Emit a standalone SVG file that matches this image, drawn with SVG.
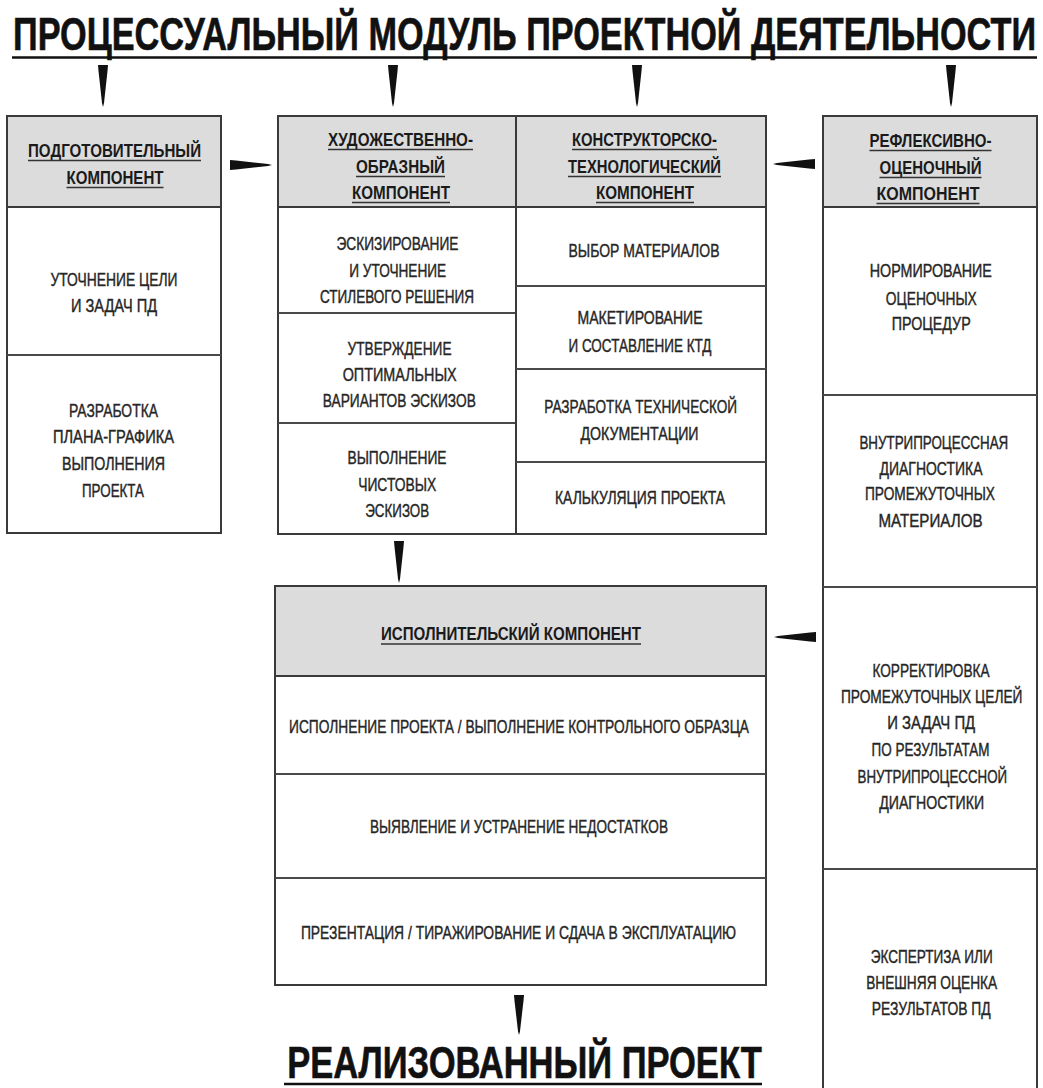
<svg xmlns="http://www.w3.org/2000/svg" width="1043" height="1088" viewBox="0 0 1043 1088">
<style>
text{font-family:"Liberation Sans","Noto Sans",Arial,sans-serif;text-anchor:middle;}
.t{font-size:46px;font-weight:bold;fill:#111;stroke:#111;stroke-width:0.6;}
.h{font-size:18.5px;font-weight:bold;fill:#1a1a1a;}
.b{font-size:17.5px;fill:#262626;stroke:#262626;stroke-width:0.4;}
.box{fill:#fff;stroke:#3a3a3a;stroke-width:2;}
.hd{fill:#dcdcdc;stroke:#3a3a3a;stroke-width:2;}
.div{stroke:#4a4a4a;stroke-width:2;fill:none;}
.ul{stroke:#333;stroke-width:1.6;}
.tul{stroke:#111;stroke-width:2.5;}
.arr{fill:#111;}
</style>
<defs>
<path id="arr" d="M-5,-42 L5,-42 L4.5,-36 L1,-4 L0,0 L-1,-4 L-4.5,-36 Z"/>
</defs>
<rect width="1043" height="1088" fill="#fff"/>

<g id="title">
<text class="t" transform="translate(524.5,50) scale(0.75,1)" x="0" y="0" textLength="1364" lengthAdjust="spacingAndGlyphs">ПРОЦЕССУАЛЬНЫЙ МОДУЛЬ ПРОЕКТНОЙ ДЕЯТЕЛЬНОСТИ</text>
<line class="tul" x1="12" y1="57.5" x2="1037" y2="57.5"/>
</g>

<g id="node-prep">
<rect class="box" x="7" y="116" width="214" height="417"/>
<rect class="hd" x="7" y="116" width="214" height="91"/>
<line class="div" x1="7" y1="355" x2="221" y2="355"/>
<text class="h" x="114.5" y="157" textLength="173" lengthAdjust="spacingAndGlyphs">ПОДГОТОВИТЕЛЬНЫЙ</text>
<line class="ul" x1="28" y1="160.5" x2="201" y2="160.5"/>
<text class="h" x="115" y="184" textLength="97" lengthAdjust="spacingAndGlyphs">КОМПОНЕНТ</text>
<line class="ul" x1="66.5" y1="187.5" x2="163.5" y2="187.5"/>
<text class="b" x="114" y="286" textLength="127" lengthAdjust="spacingAndGlyphs">УТОЧНЕНИЕ ЦЕЛИ</text>
<text class="b" x="114" y="312" textLength="86" lengthAdjust="spacingAndGlyphs">И ЗАДАЧ ПД</text>
<text class="b" x="113.5" y="417" textLength="89" lengthAdjust="spacingAndGlyphs">РАЗРАБОТКА</text>
<text class="b" x="113.5" y="443" textLength="121" lengthAdjust="spacingAndGlyphs">ПЛАНА-ГРАФИКА</text>
<text class="b" x="113.5" y="470" textLength="103" lengthAdjust="spacingAndGlyphs">ВЫПОЛНЕНИЯ</text>
<text class="b" x="113" y="497" textLength="62" lengthAdjust="spacingAndGlyphs">ПРОЕКТА</text>
</g>

<g id="node-art">
<rect class="box" x="278" y="116" width="238" height="418"/>
<rect class="hd" x="278" y="116" width="238" height="91"/>
<line class="div" x1="278" y1="313" x2="516" y2="313"/>
<line class="div" x1="278" y1="423" x2="516" y2="423"/>
<text class="h" x="400.5" y="146" textLength="145" lengthAdjust="spacingAndGlyphs">ХУДОЖЕСТВЕННО-</text>
<line class="ul" x1="328" y1="149.5" x2="473" y2="149.5"/>
<text class="h" x="400.5" y="173" textLength="89" lengthAdjust="spacingAndGlyphs">ОБРАЗНЫЙ</text>
<line class="ul" x1="356" y1="176.5" x2="445" y2="176.5"/>
<text class="h" x="401" y="199" textLength="98" lengthAdjust="spacingAndGlyphs">КОМПОНЕНТ</text>
<line class="ul" x1="352" y1="202.5" x2="450" y2="202.5"/>
<text class="b" x="397.5" y="250" textLength="122" lengthAdjust="spacingAndGlyphs">ЭСКИЗИРОВАНИЕ</text>
<text class="b" x="397.7" y="277" textLength="97" lengthAdjust="spacingAndGlyphs">И УТОЧНЕНИЕ</text>
<text class="b" x="397" y="303" textLength="154" lengthAdjust="spacingAndGlyphs">СТИЛЕВОГО РЕШЕНИЯ</text>
<text class="b" x="399.5" y="355" textLength="104" lengthAdjust="spacingAndGlyphs">УТВЕРЖДЕНИЕ</text>
<text class="b" x="399.7" y="381" textLength="114" lengthAdjust="spacingAndGlyphs">ОПТИМАЛЬНЫХ</text>
<text class="b" x="399.3" y="407" textLength="153" lengthAdjust="spacingAndGlyphs">ВАРИАНТОВ ЭСКИЗОВ</text>
<text class="b" x="397" y="464" textLength="99" lengthAdjust="spacingAndGlyphs">ВЫПОЛНЕНИЕ</text>
<text class="b" x="397.2" y="491" textLength="78" lengthAdjust="spacingAndGlyphs">ЧИСТОВЫХ</text>
<text class="b" x="397.2" y="517" textLength="64" lengthAdjust="spacingAndGlyphs">ЭСКИЗОВ</text>
</g>

<g id="node-constr">
<rect class="box" x="516" y="116" width="250" height="418"/>
<rect class="hd" x="516" y="116" width="250" height="91"/>
<line class="div" x1="516" y1="286" x2="766" y2="286"/>
<line class="div" x1="516" y1="369" x2="766" y2="369"/>
<line class="div" x1="516" y1="462" x2="766" y2="462"/>
<text class="h" x="644.5" y="146" textLength="145" lengthAdjust="spacingAndGlyphs">КОНСТРУКТОРСКО-</text>
<line class="ul" x1="572" y1="149.5" x2="717" y2="149.5"/>
<text class="h" x="644.5" y="173" textLength="153" lengthAdjust="spacingAndGlyphs">ТЕХНОЛОГИЧЕСКИЙ</text>
<line class="ul" x1="568" y1="176.5" x2="721" y2="176.5"/>
<text class="h" x="645" y="199" textLength="98" lengthAdjust="spacingAndGlyphs">КОМПОНЕНТ</text>
<line class="ul" x1="596" y1="202.5" x2="694" y2="202.5"/>
<text class="b" x="644" y="257" textLength="151" lengthAdjust="spacingAndGlyphs">ВЫБОР МАТЕРИАЛОВ</text>
<text class="b" x="640" y="324" textLength="125" lengthAdjust="spacingAndGlyphs">МАКЕТИРОВАНИЕ</text>
<text class="b" x="640" y="352" textLength="143" lengthAdjust="spacingAndGlyphs">И СОСТАВЛЕНИЕ КТД</text>
<text class="b" transform="translate(640.7,413) scale(0.8,1)" x="0" y="0" textLength="241" lengthAdjust="spacingAndGlyphs">РАЗРАБОТКА ТЕХНИЧЕСКОЙ</text>
<text class="b" x="639.5" y="440" textLength="118" lengthAdjust="spacingAndGlyphs">ДОКУМЕНТАЦИИ</text>
<text class="b" x="640" y="504" textLength="170" lengthAdjust="spacingAndGlyphs">КАЛЬКУЛЯЦИЯ ПРОЕКТА</text>
</g>

<g id="node-refl">
<rect class="box" x="823" y="116" width="214" height="990"/>
<rect class="hd" x="823" y="116" width="214" height="91"/>
<line class="div" x1="823" y1="395" x2="1037" y2="395"/>
<line class="div" x1="823" y1="587" x2="1037" y2="587"/>
<line class="div" x1="823" y1="869" x2="1037" y2="869"/>
<text class="h" x="930.5" y="147" textLength="122" lengthAdjust="spacingAndGlyphs">РЕФЛЕКСИВНО-</text>
<line class="ul" x1="869.5" y1="150.5" x2="991.5" y2="150.5"/>
<text class="h" x="930.5" y="174" textLength="102" lengthAdjust="spacingAndGlyphs">ОЦЕНОЧНЫЙ</text>
<line class="ul" x1="879.5" y1="177.5" x2="981.5" y2="177.5"/>
<text class="h" x="928" y="200" textLength="103" lengthAdjust="spacingAndGlyphs">КОМПОНЕНТ</text>
<line class="ul" x1="876.5" y1="203.5" x2="979.5" y2="203.5"/>
<text class="b" x="930.8" y="277" textLength="122" lengthAdjust="spacingAndGlyphs">НОРМИРОВАНИЕ</text>
<text class="b" x="931.3" y="305" textLength="91" lengthAdjust="spacingAndGlyphs">ОЦЕНОЧНЫХ</text>
<text class="b" x="931.2" y="330" textLength="79" lengthAdjust="spacingAndGlyphs">ПРОЦЕДУР</text>
<text class="b" transform="translate(933.8,449) scale(0.8,1)" x="0" y="0" textLength="186" lengthAdjust="spacingAndGlyphs">ВНУТРИПРОЦЕССНАЯ</text>
<text class="b" x="931" y="475" textLength="103" lengthAdjust="spacingAndGlyphs">ДИАГНОСТИКА</text>
<text class="b" x="930" y="500" textLength="130" lengthAdjust="spacingAndGlyphs">ПРОМЕЖУТОЧНЫХ</text>
<text class="b" x="930.5" y="527" textLength="104" lengthAdjust="spacingAndGlyphs">МАТЕРИАЛОВ</text>
<text class="b" x="931" y="677" textLength="117" lengthAdjust="spacingAndGlyphs">КОРРЕКТИРОВКА</text>
<text class="b" transform="translate(931.7,703) scale(0.8,1)" x="0" y="0" textLength="227" lengthAdjust="spacingAndGlyphs">ПРОМЕЖУТОЧНЫХ ЦЕЛЕЙ</text>
<text class="b" x="931.2" y="729" textLength="88" lengthAdjust="spacingAndGlyphs">И ЗАДАЧ ПД</text>
<text class="b" x="930.5" y="756" textLength="118" lengthAdjust="spacingAndGlyphs">ПО РЕЗУЛЬТАТАМ</text>
<text class="b" transform="translate(932.3,783) scale(0.8,1)" x="0" y="0" textLength="187" lengthAdjust="spacingAndGlyphs">ВНУТРИПРОЦЕССНОЙ</text>
<text class="b" x="931.7" y="809" textLength="105" lengthAdjust="spacingAndGlyphs">ДИАГНОСТИКИ</text>
<text class="b" x="931.7" y="963" textLength="122" lengthAdjust="spacingAndGlyphs">ЭКСПЕРТИЗА ИЛИ</text>
<text class="b" x="931.7" y="989" textLength="131" lengthAdjust="spacingAndGlyphs">ВНЕШНЯЯ ОЦЕНКА</text>
<text class="b" x="931.2" y="1015" textLength="119" lengthAdjust="spacingAndGlyphs">РЕЗУЛЬТАТОВ ПД</text>
</g>

<g id="node-exec">
<rect class="box" x="275" y="586" width="491" height="399"/>
<rect class="hd" x="275" y="586" width="491" height="90"/>
<line class="div" x1="275" y1="774" x2="766" y2="774"/>
<line class="div" x1="275" y1="878" x2="766" y2="878"/>
<text class="h" x="511" y="640" textLength="260" lengthAdjust="spacingAndGlyphs">ИСПОЛНИТЕЛЬСКИЙ КОМПОНЕНТ</text>
<line class="ul" x1="381" y1="644" x2="641" y2="644"/>
<text class="b" transform="translate(519,733) scale(0.8,1)" x="0" y="0" textLength="575" lengthAdjust="spacingAndGlyphs">ИСПОЛНЕНИЕ ПРОЕКТА / ВЫПОЛНЕНИЕ КОНТРОЛЬНОГО ОБРАЗЦА</text>
<text class="b" x="519" y="833" textLength="298" lengthAdjust="spacingAndGlyphs">ВЫЯВЛЕНИЕ И УСТРАНЕНИЕ НЕДОСТАТКОВ</text>
<text class="b" transform="translate(518.5,939) scale(0.8,1)" x="0" y="0" textLength="544" lengthAdjust="spacingAndGlyphs">ПРЕЗЕНТАЦИЯ / ТИРАЖИРОВАНИЕ И СДАЧА В ЭКСПЛУАТАЦИЮ</text>
</g>

<g id="result">
<text class="t" style="font-size:44px" transform="translate(524.5,1078) scale(0.75,1)" x="0" y="0" textLength="633" lengthAdjust="spacingAndGlyphs">РЕАЛИЗОВАННЫЙ ПРОЕКТ</text>
<line class="tul" x1="284" y1="1084" x2="762" y2="1084"/>
</g>

<g id="connectors" class="arr">
<use href="#arr" transform="translate(103,107)"/>
<use href="#arr" transform="translate(393,107)"/>
<use href="#arr" transform="translate(637,107)"/>
<use href="#arr" transform="translate(951,107)"/>
<use href="#arr" transform="translate(272,165) rotate(-90)"/>
<use href="#arr" transform="translate(773,164) rotate(90)"/>
<use href="#arr" transform="translate(399,583)"/>
<use href="#arr" transform="translate(774,637) rotate(90)"/>
<use href="#arr" transform="translate(519,1035) scale(1,0.95)"/>
</g>
</svg>
